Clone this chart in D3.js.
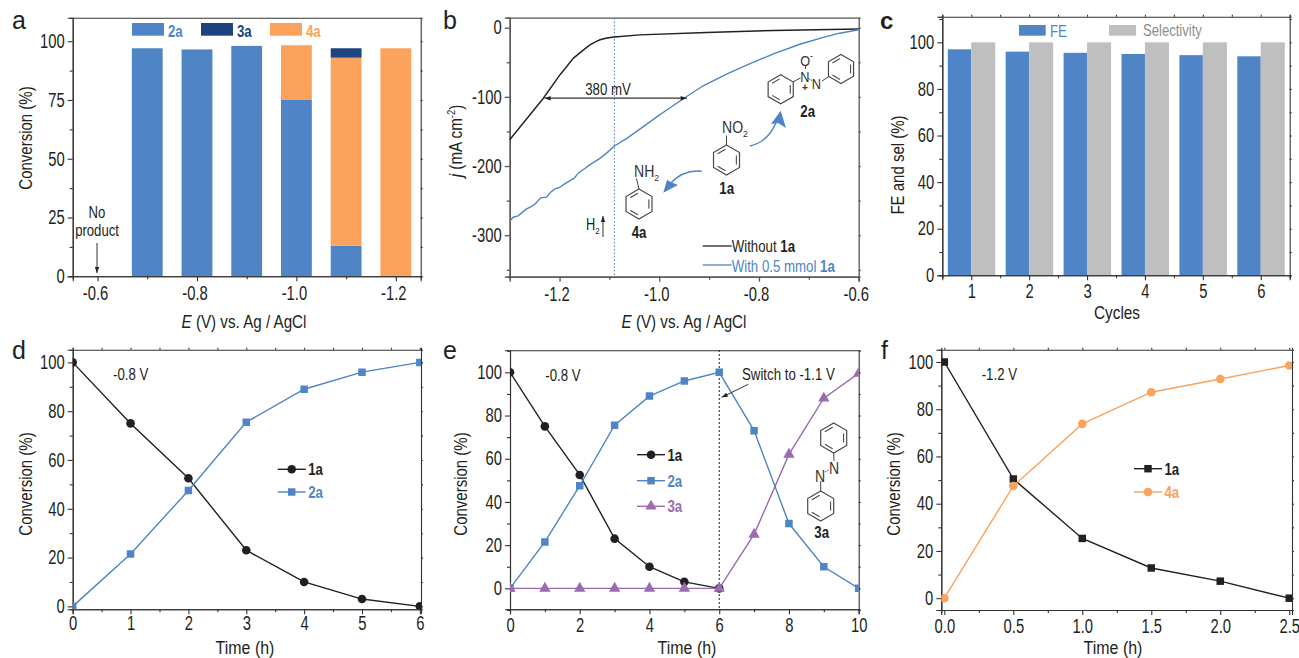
<!DOCTYPE html>
<html>
<head>
<meta charset="utf-8">
<script src="https://cdn.jsdelivr.net/npm/d3@7"></script>
<style>
body { margin: 0; background: #fff; }
svg { display: block; font-family: "Liberation Sans", Arial, sans-serif; }
</style>
</head>
<body>
<svg id="fig" width="1299" height="658"></svg>
<script>
// panel a
var a_potential = [-0.7, -0.8, -0.9, -1.0, -1.1, -1.2];
var a_2a = [97, 96.5, 98, 75, 13, 0];
var a_3a = [0, 0, 0, 0, 4, 0];
var a_4a = [0, 0, 0, 23.3, 80, 97];

// panel b
var b_without_E = [-1.3, -1.2325, -1.199, -1.172, -1.15, -1.139, -1.128, -1.119, -1.105, -1.09, -1.039, -0.905, -0.771, -0.6];
var b_without_j = [-162, -102, -68, -44, -31, -25, -20.5, -17.5, -15, -13.5, -10.5, -7, -4, -2];
var b_with_E = [-1.3, -1.293, -1.283, -1.275, -1.266, -1.258, -1.249, -1.238, -1.226, -1.218, -1.209, -1.2, -1.192, -1.179, -1.171, -1.162, -1.15, -1.139, -1.119, -1.105, -1.09, -1.065, -1.032, -1.005, -0.985, -0.948, -0.912, -0.865, -0.818, -0.771, -0.718, -0.671, -0.638, -0.6];
var b_with_j = [-280, -274, -272, -267, -262, -259, -255, -246, -245, -238, -233, -231, -227, -221, -218, -210, -204, -198, -189, -181, -171, -160, -143, -129, -119, -101, -84, -67, -52, -38, -24, -14, -8, -3];

// panel c
var c_cycles = [1, 2, 3, 4, 5, 6];
var c_fe = [97, 96, 95.5, 95, 94.5, 94];
var c_sel = [100, 100, 100, 100, 100, 100];

// panel d
var d_time = [0, 1, 2, 3, 4, 5, 6];
var d_1a = [100, 75, 52.5, 23, 10, 3, 0];
var d_2a = [0, 21.5, 47.5, 75.5, 89, 96, 100];

// panel e
var e_time = [0, 1, 2, 3, 4, 5, 6, 7, 8, 9, 10];
var e_1a = [100, 75, 52.5, 23, 10, 3, 0];
var e_2a = [0, 21.5, 47.5, 75.5, 89, 96, 100, 73, 30, 10, 0];
var e_3a = [0, 0, 0, 0, 0, 0, 0, 25, 62, 88, 99.5];

// panel f
var f_time = [0, 0.5, 1, 1.5, 2, 2.5];
var f_1a = [100, 50.5, 25.3, 12.8, 7.2, 0];
var f_4a = [0, 47.5, 73.8, 87.2, 92.8, 98.5];

var BLUE = "#4f85c6", NAVY = "#1d4380", ORANGE = "#fba25d", GREY = "#bfbfbf", PURPLE = "#9a6bb0", BLACK = "#231f20";
var TICK_SIZE = 19.5, TICK_SX = 0.76; // the figure text is narrow, squeeze it

var svg = d3.select("#fig");
var clipCount = 0;

// text helper, runs = string or list of [text, {bold, italic, sub, sup}]
function label(x, y, runs, o) {
	o = o || {};
	var size = o.size || 19;
	var t = svg.append("text")
		.attr("transform", "translate(" + x + "," + y + ")" + (o.rot ? " rotate(" + o.rot + ")" : "") + " scale(" + (o.sx || 0.8) + ",1)")
		.attr("font-size", size)
		.attr("text-anchor", o.anchor || "start")
		.attr("font-weight", o.bold ? "bold" : "normal")
		.attr("fill", o.color || BLACK);
	if (typeof runs == "string") runs = [[runs, {}]];
	runs.forEach(function(r) {
		var s = t.append("tspan").text(r[0]);
		var st = r[1] || {};
		if (st.bold) s.attr("font-weight", "bold");
		if (st.italic) s.attr("font-style", "italic");
		if (st.sub) s.attr("dy", size * 0.25).attr("font-size", size * 0.62);
		if (st.sup) s.attr("dy", -size * 0.38).attr("font-size", size * 0.62);
		if (st.back) s.attr("dy", size * st.back);
	});
	return t;
}

function line(x1, y1, x2, y2, color, w, dash) {
	return svg.append("line")
		.attr("x1", x1).attr("y1", y1).attr("x2", x2).attr("y2", y2)
		.attr("stroke", color || BLACK)
		.attr("stroke-width", w || 1)
		.attr("stroke-dasharray", dash || null);
}

function hyphen(fmt) {
	return function(d) { return d3.format(fmt)(d).replace("\u2212", "-"); };
}

// frame with major and minor ticks on all four sides
function frame(x, y, o) {
	var r = x.range(), b = y.range();
	var g = svg.append("g");
	var xAxis = d3.axisBottom(x).tickValues(o.xTicks).tickSize(5).tickPadding(o.xPad)
		.tickFormat(hyphen(o.xFormat || "d"));
	var yAxis = d3.axisLeft(y).tickValues(o.yTicks).tickSize(5).tickPadding(3)
		.tickFormat(hyphen("d"));
	var gx = g.append("g").attr("transform", "translate(0," + b[0] + ")").call(xAxis);
	var gy = g.append("g").attr("transform", "translate(" + r[0] + ",0)").call(yAxis);
	gx.selectAll("text").attr("x", (o.xShift || 0) / TICK_SX).attr("transform", "scale(" + TICK_SX + ",1)");
	gy.selectAll("text").attr("x", -8 / TICK_SX).attr("transform", "scale(" + TICK_SX + ",1)");
	g.append("g").attr("transform", "translate(0," + b[0] + ")")
		.call(d3.axisBottom(x).tickValues(o.xMinor).tickSize(3).tickFormat(""));
	g.append("g").attr("transform", "translate(" + r[0] + ",0)")
		.call(d3.axisLeft(y).tickValues(o.yMinor).tickSize(3).tickFormat(""));
	// right side
	g.append("g").attr("transform", "translate(" + r[1] + ",0)")
		.call(d3.axisRight(y).tickValues(o.yTicks.concat(o.yMinor)).tickSize(2).tickFormat(""));
	g.append("g").attr("transform", "translate(0," + b[1] + ")")
		.call(d3.axisTop(x).tickValues(o.topTicks ? o.xTicks.concat(o.xMinor) : []).tickSize(o.topTicks ? 2 : 0).tickFormat(""));
	g.selectAll("text").attr("font-size", TICK_SIZE).attr("font-family", "Liberation Sans").attr("fill", BLACK);
	g.selectAll("path,line").attr("stroke", o.color || "#333").attr("stroke-width", o.width || 1.1);
}

// the markers get cut by the frame in the original
function plotClip(x, y) {
	var id = "clip" + (clipCount++);
	var r = x.range(), b = y.range();
	svg.append("clipPath").attr("id", id).append("rect")
		.attr("x", r[0]).attr("y", b[1]).attr("width", r[1] - r[0]).attr("height", b[0] - b[1]);
	return "url(#" + id + ")";
}

// line plus markers
function series(x, y, xs, ys, color, kind, clip) {
	var pts = ys.map(function(v, i) { return [xs[i], v]; });
	var g = svg.append("g").attr("clip-path", clip || null);
	g.append("path")
		.datum(pts)
		.attr("fill", "none")
		.attr("stroke", color)
		.attr("stroke-width", 1.4)
		.attr("d", d3.line().x(function(d) { return x(d[0]); }).y(function(d) { return y(d[1]); }));
	if (kind) {
		g.append("g").selectAll("path").data(pts).enter().append("path")
			.attr("transform", function(d) { return "translate(" + x(d[0]) + "," + y(d[1]) + ")"; })
			.attr("d", marker(kind))
			.attr("fill", color);
	}
}

function marker(kind) {
	if (kind == "square") return d3.symbol().type(d3.symbolSquare).size(56)();
	if (kind == "triangle") return d3.symbol().type(d3.symbolTriangle).size(56)();
	return d3.symbol().type(d3.symbolCircle).size(58)();
}

// legend row of a line plot
function legendRow(x1, x2, y, text, color, kind) {
	line(x1, y, x2, y, color, 1.4);
	svg.append("path").attr("transform", "translate(" + (x1 + x2) / 2 + "," + y + ")").attr("d", marker(kind)).attr("fill", color);
	label(x2 + 2.5, y + 6, text, { size: 17, bold: true, color: color, sx: 0.78 });
}

// benzene ring, pointy top, double bonds on every other edge
function ring(cx, cy, r, start) {
	var c = "#4a4a4a";
	var v = d3.range(6).map(function(i) {
		var a = (i * 60 - 90) * Math.PI / 180;
		return [cx + r * Math.cos(a), cy + r * Math.sin(a)];
	});
	svg.append("polygon").attr("points", v.join(" ")).attr("fill", "none").attr("stroke", c).attr("stroke-width", 1.2);
	[0, 2, 4].forEach(function(k) {
		var i = (k + start) % 6, p = v[i], q = v[(i + 1) % 6], f = 0.76;
		var mx = cx + (p[0] + q[0] - 2 * cx) / 2 * f, my = cy + (p[1] + q[1] - 2 * cy) / 2 * f;
		var dx = (q[0] - p[0]) * 0.3, dy = (q[1] - p[1]) * 0.3;
		line(mx - dx, my - dy, mx + dx, my + dy, c, 1.1);
	});
}

function blueArrow(d, head) {
	svg.append("path").attr("d", d).attr("fill", "none").attr("stroke", BLUE).attr("stroke-width", 1.5);
	svg.append("polygon").attr("points", head).attr("fill", BLUE);
}

function blackArrow(x1, y1, x2, y2, w) {
	line(x1, y1, x2, y2, "#333", w || 1);
	var a = Math.atan2(y2 - y1, x2 - x1), l = 6, s = 2.2;
	var bx = x2 - l * Math.cos(a), by = y2 - l * Math.sin(a);
	svg.append("polygon")
		.attr("points", [[x2, y2], [bx - s * Math.sin(a), by + s * Math.cos(a)], [bx + s * Math.sin(a), by - s * Math.cos(a)]].join(" "))
		.attr("fill", "#222");
}

var E_TITLE = [["E", { italic: true }], [" (V) vs. Ag / AgCl", {}]];
var CHEM = { size: 17, sx: 0.78, bold: true, anchor: "middle" };
var ATOM = { size: 16, sx: 0.88, color: "#333" };
var NOTE = { size: 17, sx: 0.78 };

// ---------- a ----------
(function() {
	var x = d3.scaleLinear().domain([-0.55, -1.25]).range([72.7, 420.7]);
	var y = d3.scaleLinear().domain([0, 110]).range([276.3, 17.7]);
	var table = a_potential.map(function(e, i) {
		return { e: e, "2a": a_2a[i], "4a": a_4a[i], "3a": a_3a[i] };
	});
	var colors = { "2a": BLUE, "4a": ORANGE, "3a": NAVY };
	var stack = d3.stack().keys(["2a", "4a", "3a"])(table);
	svg.append("g").selectAll("g").data(stack).enter().append("g")
		.attr("fill", function(d) { return colors[d.key]; })
		.selectAll("rect").data(function(d) { return d; }).enter().append("rect")
		.attr("x", function(d) { return x(d.data.e + 0.031); })
		.attr("width", function(d) { return x(d.data.e - 0.031) - x(d.data.e + 0.031); })
		.attr("y", function(d) { return y(d[1]); })
		.attr("height", function(d) { return y(d[0]) - y(d[1]); });
	frame(x, y, {
		xTicks: [-0.6, -0.8, -1.0, -1.2], xMinor: [-0.7, -0.9, -1.1], xPad: 5, xShift: -2.5,
		xFormat: ".1f",
		yTicks: [0, 25, 50, 75, 100], yMinor: [12.5, 37.5, 62.5, 87.5]
	});
	[["2a", BLUE, 132], ["3a", NAVY, 201], ["4a", ORANGE, 270]].forEach(function(l) {
		svg.append("rect").attr("x", l[2]).attr("y", 23).attr("width", 32).attr("height", 12.7).attr("fill", l[1]);
		label(l[2] + 36, 36.5, l[0], { size: 17, bold: true, color: l[1], sx: 0.78 });
	});
	label(97, 218, "No", { size: 16, anchor: "middle", sx: 0.82 });
	label(97, 235.5, "product", { size: 16, anchor: "middle", sx: 0.82 });
	blackArrow(97, 243, 97, 273);
	label(244, 328, E_TITLE, { anchor: "middle", sx: 0.8 });
	label(32, 138, "Conversion (%)", { rot: -90, anchor: "middle", sx: 0.79 });
	label(12, 29, "a", { size: 25, sx: 1 });
})();

// ---------- b ----------
(function() {
	var x = d3.scaleLinear().domain([-1.3, -0.6]).range([509.7, 858.7]);
	var y = d3.scaleLinear().domain([-360, 14.4]).range([276.7, 17.7]);
	frame(x, y, {
		xTicks: [-1.2, -1.0, -0.8, -0.6], xMinor: [-1.1, -0.9, -0.7], xPad: 5, xShift: -3,
		xFormat: ".1f",
		yTicks: [0, -100, -200, -300], yMinor: [-50, -150, -250, -350],
		color: "#555", width: 1.3
	});
	line(x(-1.09), 18, x(-1.09), 276, BLUE, 1, "1.5,2");
	series(x, y, b_without_E, b_without_j, BLACK);
	series(x, y, b_with_E, b_with_j, BLUE);
	// 380 mV arrow
	line(x(-1.23), y(-102), x(-0.945), y(-102), "#333", 1.2);
	[[-1.23, 6], [-0.945, -6]].forEach(function(p) {
		var px = x(p[0]), py = y(-102);
		svg.append("polygon").attr("points", [[px, py], [px + p[1], py - 2.2], [px + p[1], py + 2.2]].join(" ")).attr("fill", "#222");
	});
	label(608, 94.5, "380 mV", { size: 17, anchor: "middle", sx: 0.78 });

	// legend
	line(702.7, 246, 731.7, 246, BLACK, 1.3);
	line(702.7, 265, 731.7, 265, BLUE, 1.3);
	label(731.7, 252, [["Without ", {}], ["1a", { bold: true }]], NOTE);
	label(731.7, 271.5, [["With 0.5 mmol ", {}], ["1a", { bold: true }]], { size: 17, sx: 0.78, color: BLUE });

	// H2
	label(586, 230, [["H", {}], ["2", { sub: true }]], { size: 16, sx: 0.8 });
	blackArrow(603, 237, 603, 216);

	// 1a
	ring(726.5, 160, 15, 5);
	line(726.5, 145, 726.5, 135.5, "#444");
	label(722, 132.5, [["NO", {}], ["2", { sub: true }]], ATOM);
	label(726.7, 194, "1a", CHEM);
	// 4a
	ring(639, 204, 15, 5);
	line(639, 189, 636.5, 178.5, "#444");
	label(634, 177, [["NH", {}], ["2", { sub: true }]], ATOM);
	label(639, 238, "4a", CHEM);
	// 2a
	ring(780.7, 89.3, 14.5, 5);
	ring(841, 69, 14.5, 5);
	line(793, 81.8, 800.5, 78, "#444");
	line(805.5, 66, 805.5, 69, "#444");
	line(808.5, 78.5, 812, 80.5, "#444", 1, "1.5,1");
	line(822, 81, 829, 76.5, "#444");
	label(800.3, 82, "N", { size: 15, sx: 0.85, color: "#333" });
	label(811.8, 89, "N", { size: 15, sx: 0.85, color: "#333" });
	label(800.3, 66, "O", { size: 15, sx: 0.85, color: "#333" });
	label(810, 58.5, "-", { size: 11, color: "#333" });
	label(802, 91, "+", { size: 10, sx: 1, bold: true, color: "#333" });
	label(807.7, 117, "2a", CHEM);

	blueArrow("M750,146 C763,143 772,134 777,120", "780.7,110.7 786,128 778,123 771,124");
	blueArrow("M701.7,171.3 C688,170 678,175 670,184", "663.3,192.7 667,180 673,183 678,185");

	label(684, 328, E_TITLE, { anchor: "middle", sx: 0.8 });
	label(462, 141, [["j", { italic: true }], [" (mA cm", {}], ["-2", { sup: true }], [")", { back: 0.38 }]], { rot: -90, anchor: "middle", sx: 0.8 });
	label(443, 29, "b", { size: 25, sx: 1 });
})();

// ---------- c ----------
(function() {
	var x = d3.scaleLinear().domain([0.5, 6.5]).range([942.3, 1289.7]);
	var y = d3.scaleLinear().domain([0, 111]).range([275.3, 16.7]);
	var bw = 0.405;
	svg.append("g").selectAll("rect").data(c_cycles).enter().append("rect")
		.attr("x", function(d) { return x(d - bw); })
		.attr("width", x(bw) - x(0))
		.attr("y", function(d, i) { return y(c_fe[i]); })
		.attr("height", function(d, i) { return y(0) - y(c_fe[i]); })
		.attr("fill", BLUE);
	svg.append("g").selectAll("rect").data(c_cycles).enter().append("rect")
		.attr("x", function(d) { return x(d); })
		.attr("width", x(bw + 0.01) - x(0))
		.attr("y", function(d, i) { return y(c_sel[i]); })
		.attr("height", function(d, i) { return y(0) - y(c_sel[i]); })
		.attr("fill", GREY);
	frame(x, y, {
		xTicks: c_cycles, xMinor: [0.5, 1.5, 2.5, 3.5, 4.5, 5.5, 6.5], xPad: 4,
		yTicks: [0, 20, 40, 60, 80, 100], yMinor: [10, 30, 50, 70, 90, 110], topTicks: true
	});
	svg.append("rect").attr("x", 1019).attr("y", 25).attr("width", 26.7).attr("height", 10.7).attr("fill", BLUE);
	label(1050, 36.5, "FE", { size: 17, color: BLUE, sx: 0.78 });
	svg.append("rect").attr("x", 1109).attr("y", 25).attr("width", 27).attr("height", 10.7).attr("fill", GREY);
	label(1143, 35.5, "Selectivity", { size: 17, color: "#8c8c8c", sx: 0.77 });
	label(1117, 319, "Cycles", { anchor: "middle", sx: 0.81 });
	label(904, 165, "FE and sel (%)", { rot: -90, anchor: "middle", sx: 0.79 });
	label(880, 29, "c", { size: 24, sx: 1, bold: true });
})();

// ---------- d ----------
(function() {
	var x = d3.scaleLinear().domain([0, 6.02]).range([72.7, 421]);
	var y = d3.scaleLinear().domain([-1.2, 105.2]).range([609.3, 349.7]);
	var clip = plotClip(x, y);
	frame(x, y, {
		xTicks: d_time, xMinor: [0.5, 1.5, 2.5, 3.5, 4.5, 5.5], xPad: 2,
		yTicks: [0, 20, 40, 60, 80, 100], yMinor: [10, 30, 50, 70, 90], topTicks: true
	});
	series(x, y, d_time, d_1a, BLACK, "circle", clip);
	series(x, y, d_time, d_2a, BLUE, "square", clip);
	legendRow(277.7, 305.7, 469.3, "1a", BLACK, "circle");
	legendRow(277.7, 305.7, 492, "2a", BLUE, "square");
	label(113, 380, "-0.8 V", NOTE);
	label(245, 654, "Time (h)", { anchor: "middle", sx: 0.84 });
	label(32, 484, "Conversion (%)", { rot: -90, anchor: "middle", sx: 0.79 });
	label(12, 359, "d", { size: 25, sx: 1 });
})();

// ---------- e ----------
(function() {
	var x = d3.scaleLinear().domain([0, 10]).range([510, 858.7]);
	var y = d3.scaleLinear().domain([-9.7, 110.2]).range([609.3, 350.3]);
	var clip = plotClip(x, y);
	frame(x, y, {
		xTicks: [0, 2, 4, 6, 8, 10], xMinor: [1, 3, 5, 7, 9], xPad: 4,
		yTicks: [0, 20, 40, 60, 80, 100], yMinor: [-10, 10, 30, 50, 70, 90, 110]
	});
	line(x(6), 350, x(6), 609, BLACK, 1, "2,2");
	series(x, y, e_time, e_1a, BLACK, "circle", clip);
	series(x, y, e_time, e_2a, BLUE, "square", clip);
	series(x, y, e_time, e_3a, PURPLE, "triangle", clip);
	legendRow(637, 665, 454.7, "1a", BLACK, "circle");
	legendRow(637, 665, 480.7, "2a", BLUE, "square");
	legendRow(637, 665, 506.3, "3a", PURPLE, "triangle");
	label(545.3, 381, "-0.8 V", NOTE);
	label(742, 380, "Switch to -1.1 V", NOTE);
	blackArrow(748.3, 384.3, 721.7, 397.3);
	// 3a
	ring(833.7, 438, 15, 5);
	ring(820.7, 506, 15, 5);
	line(833.7, 453, 834, 461, "#444");
	line(820.7, 491, 820.7, 481, "#444");
	line(825, 472, 829, 470, "#444", 1, "1.5,1");
	label(829, 474, "N", ATOM);
	label(815, 481.5, "N", ATOM);
	label(821.7, 538, "3a", CHEM);
	label(687, 654, "Time (h)", { anchor: "middle", sx: 0.84 });
	label(467, 484, "Conversion (%)", { rot: -90, anchor: "middle", sx: 0.79 });
	label(443, 359, "e", { size: 25, sx: 1 });
})();

// ---------- f ----------
(function() {
	var x = d3.scaleLinear().domain([-0.022, 2.52]).range([941.3, 1292]);
	var y = d3.scaleLinear().domain([-5, 105.2]).range([610, 349.7]);
	var clip = plotClip(x, y);
	frame(x, y, {
		xTicks: f_time, xMinor: [0.25, 0.75, 1.25, 1.75, 2.25], xPad: 4,
		xFormat: ".1f",
		yTicks: [0, 20, 40, 60, 80, 100], yMinor: [10, 30, 50, 70, 90], topTicks: true
	});
	series(x, y, f_time, f_1a, BLACK, "square", clip);
	series(x, y, f_time, f_4a, ORANGE, "circle", clip);
	legendRow(1134, 1162, 468.7, "1a", BLACK, "square");
	legendRow(1134, 1162, 492, "4a", ORANGE, "circle");
	label(981.7, 380, "-1.2 V", NOTE);
	label(1113, 654, "Time (h)", { anchor: "middle", sx: 0.84 });
	label(900, 484, "Conversion (%)", { rot: -90, anchor: "middle", sx: 0.79 });
	label(881, 359, "f", { size: 25, sx: 1 });
})();
</script>
</body>
</html>
